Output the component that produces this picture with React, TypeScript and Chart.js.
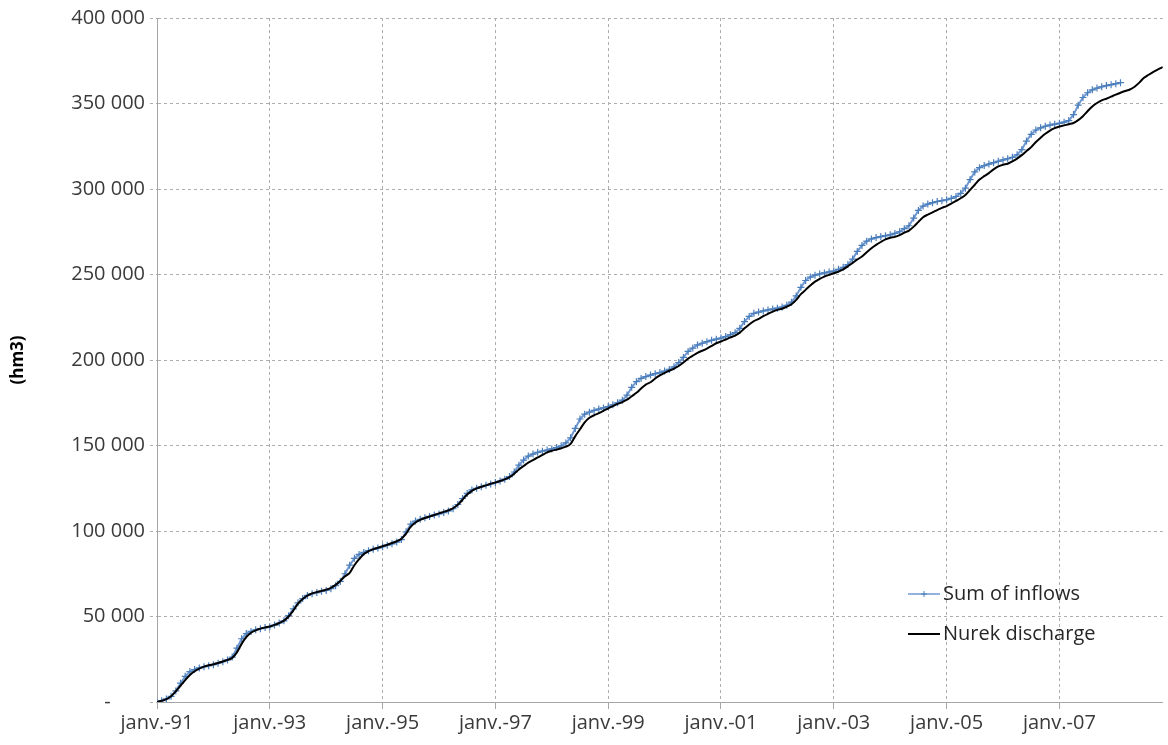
import React, { useEffect, useRef } from 'react';
import { Chart, registerables } from 'chart.js';

Chart.register(...registerables);

// Monthly cumulative volumes (hm3), starting January 1991
const sumOfInflows: number[] = [
  // 1991
  0, 800, 1800, 3300, 6500, 11000, 15000, 17800, 19000, 19900, 20600, 21200,
  // 1992
  21800, 22700, 23600, 24600, 26300, 31500, 37000, 40000, 41300, 42200, 42900, 43500,
  // 1993
  44000, 45000, 46200, 47500, 50500, 54500, 58000, 60500, 62300, 63300, 64000, 64700,
  // 1994
  65200, 66300, 68000, 70500, 75000, 80000, 84000, 86300, 87500, 88500, 89300, 90000,
  // 1995
  90800, 91700, 92500, 93500, 95000, 99500, 104000, 105800, 106800, 107700, 108500, 109300,
  // 1996
  110000, 110800, 111700, 113000, 115500, 119000, 122000, 124000, 125000, 125900, 126700, 127500,
  // 1997
  128300, 129200, 130300, 131800, 134500, 138500, 141500, 143800, 145000, 146000, 146700, 147300,
  // 1998
  148000, 148800, 149800, 151500, 154500, 160000, 165500, 168300, 169500, 170500, 171300, 172000,
  // 1999
  172800, 173800, 175000, 176500, 179500, 184000, 187300, 189200, 190300, 191200, 192000, 192700,
  // 2000
  193500, 194500, 196000, 198500, 201500, 205000, 207000, 208800, 209800, 210700, 211500, 212200,
  // 2001
  212800, 213700, 214800, 216000, 218500, 222500, 225500, 227300, 228000, 228700, 229300, 229800,
  // 2002
  230300, 231000, 232000, 233800, 237500, 242500, 246500, 248500, 249600, 250300, 250900, 251500,
  // 2003
  252000, 253000, 254200, 255800, 259000, 263500, 267000, 269500, 270800, 271600, 272200, 272700,
  // 2004
  273200, 274000, 275000, 276800, 278500, 283000, 287500, 290000, 291200, 292000, 292700, 293200,
  // 2005
  293700, 294500, 295600, 297500, 300500, 305500, 310000, 312500, 313700, 314600, 315400, 316200,
  // 2006
  317000, 317700, 318500, 320000, 323000, 328000, 332000, 334500, 335800, 336700, 337400, 337900,
  // 2007
  338400, 339100, 340000, 343500, 349000, 353500, 356300, 358000, 359000, 359800, 360500, 361000,
  // 2008
  361600, 362200,
];

const nurekDischarge: number[] = [
  // 1991
  0, 700, 1700, 3400, 6200, 9500, 12800, 15800, 18000, 19500, 20700, 21500,
  // 1992
  22100, 22800, 23700, 24600, 25800, 29000, 34000, 38000, 40500, 41900, 42900, 43600,
  // 1993
  44200, 45100, 46200, 47600, 50000, 53500, 57500, 60300, 62200, 63500, 64300, 65000,
  // 1994
  65700, 66800, 68500, 70800, 73500, 75500, 80000, 83500, 86500, 88200, 89300, 90200,
  // 1995
  91100, 92000, 93000, 94000, 95500, 98500, 102500, 105000, 106500, 107600, 108500, 109400,
  // 1996
  110300, 111200, 112100, 113300, 115300, 118300, 121300, 123500, 124900, 125900, 126700, 127600,
  // 1997
  128400, 129200, 130200, 131500, 133500, 136000, 138000, 140000, 141500, 143000, 144500, 146000,
  // 1998
  146900, 147600, 148400, 149300, 151000, 155500, 159500, 163500, 166200, 167700, 168900, 170300,
  // 1999
  171700, 173000, 174300, 175400, 176800, 178800, 180800, 183300, 185600, 187000, 189200, 191000,
  // 2000
  192500, 193700, 195000, 196500, 198500, 200800, 202500, 204200, 205400, 206700, 208200, 209800,
  // 2001
  210800, 212000, 213200, 214300, 216000, 218500, 220800, 222800, 224000, 225600, 227000, 228300,
  // 2002
  229300, 230000, 231200, 232600, 235200, 238500, 241000, 243600, 245800, 247500, 248800, 249800,
  // 2003
  250700, 251700, 253000, 254800, 256800, 258800, 260500, 263000, 265300, 267300, 269000, 270500,
  // 2004
  271500, 272000, 273000, 274500, 275700, 278000, 280800, 283500, 285000, 286300, 287700, 289000,
  // 2005
  290000, 291500, 293000, 294600, 296500, 299500, 302500, 305500, 307500, 309300, 311500, 313200,
  // 2006
  314200, 314800, 316200, 317800, 319800, 322200, 324500, 327500, 330000, 332300, 334200, 335600,
  // 2007
  336500, 337200, 337900, 338600, 340300, 342600, 345500, 348300, 350300, 351800, 352800, 354000,
  // 2008
  355200, 356300, 357300, 358200, 359800, 362200, 365000, 366800, 368500, 370000, 371300,
];

const seriesNames: string[] = ['Sum of inflows', 'Nurek discharge'];
const xTickLabels: string[] = ['janv.-91', 'janv.-93', 'janv.-95', 'janv.-97', 'janv.-99', 'janv.-01', 'janv.-03', 'janv.-05', 'janv.-07'];
const xTickMonths: number[] = [0, 24, 48, 72, 96, 120, 144, 168, 192];
const yTickValues: number[] = [0, 50000, 100000, 150000, 200000, 250000, 300000, 350000, 400000];
const yAxisTitle = '(hm3)';

const FONT = "'Open Sans', sans-serif";
const BLUE_LINE = '#6F98D3';
const BLUE_MARK = '#4A7EBB';
const GRID = '#ADADAD';
const AXIS = '#A6A6A6';
const TEXT = '#3A3A3A';

function fmt(v: number): string {
  if (v === 0) return '-\u2007\u2007\u2007';
  return String(v).replace(/\B(?=(\d{3})+(?!\d))/g, ' ');
}

const legendPlugin = {
  id: 'inlineLegend',
  afterDraw(chart: any) {
    const ctx = chart.ctx;
    const x0 = 908;
    const x1 = 940;
    const rows = [594, 634];
    ctx.save();
    ctx.font = `20px ${FONT}`;
    ctx.textBaseline = 'middle';
    ctx.textAlign = 'left';
    rows.forEach((y, i) => {
      ctx.beginPath();
      ctx.setLineDash([]);
      ctx.lineWidth = i === 0 ? 1.5 : 2;
      ctx.strokeStyle = i === 0 ? BLUE_LINE : '#000000';
      ctx.moveTo(x0, y);
      ctx.lineTo(x1, y);
      ctx.stroke();
      if (i === 0) {
        ctx.beginPath();
        ctx.lineWidth = 1;
        ctx.strokeStyle = BLUE_MARK;
        const cx = (x0 + x1) / 2;
        ctx.moveTo(cx - 3, y);
        ctx.lineTo(cx + 3, y);
        ctx.moveTo(cx, y - 3);
        ctx.lineTo(cx, y + 3);
        ctx.stroke();
      }
      ctx.fillStyle = '#262626';
      ctx.fillText(seriesNames[i], x1 + 3, y);
    });
    ctx.restore();
  },
};

export default function App() {
  const canvasRef = useRef<HTMLCanvasElement | null>(null);

  useEffect(() => {
    document.body.style.margin = '0';
    const canvas = canvasRef.current;
    if (!canvas) return;
    const chart = new Chart(canvas, {
      type: 'line',
      data: {
        datasets: [
          {
            label: seriesNames[0],
            data: sumOfInflows.map((v, i) => ({ x: i, y: v })),
            borderColor: BLUE_LINE,
            borderWidth: 2,
            pointStyle: 'cross',
            pointRadius: 3.5,
            pointBorderWidth: 1.2,
            pointBorderColor: BLUE_MARK,
            pointBackgroundColor: BLUE_MARK,
            tension: 0,
            order: 1,
          },
          {
            label: seriesNames[1],
            data: nurekDischarge.map((v, i) => ({ x: i, y: v })),
            borderColor: '#000000',
            borderWidth: 2,
            pointRadius: 0,
            cubicInterpolationMode: 'monotone',
            order: 0,
          },
        ],
      },
      options: {
        animation: false,
        responsive: false,
        maintainAspectRatio: false,
        layout: { padding: { top: 18, right: 0, left: 0, bottom: 0 } },
        plugins: {
          legend: { display: false },
          tooltip: { enabled: false },
        },
        scales: {
          x: {
            type: 'linear',
            min: 0,
            max: nurekDischarge.length - 1,
            afterBuildTicks: (scale: any) => {
              scale.ticks = xTickMonths.map((v) => ({ value: v }));
            },
            afterFit: (scale: any) => {
              scale.height = 43;
            },
            ticks: {
              autoSkip: false,
              maxRotation: 0,
              padding: 2,
              color: TEXT,
              font: { family: FONT, size: 20 },
              callback: (v: any) => {
                const idx = xTickMonths.indexOf(Number(v));
                return idx >= 0 ? xTickLabels[idx] : '';
              },
            },
            grid: { color: GRID, lineWidth: 1, tickLength: 7, tickColor: AXIS },
            border: { display: true, color: AXIS, width: 1, dash: [3, 3] },
          },
          y: {
            type: 'linear',
            min: 0,
            max: 400000,
            afterBuildTicks: (scale: any) => {
              scale.ticks = yTickValues.map((v) => ({ value: v }));
            },
            afterFit: (scale: any) => {
              scale.width = 157;
            },
            ticks: {
              padding: 5,
              color: TEXT,
              font: { family: FONT, size: 20 },
              callback: (v: any) => fmt(Number(v)),
            },
            grid: { color: GRID, lineWidth: 1, tickLength: 7, tickColor: GRID, tickBorderDash: [3, 3] },
            border: { display: true, color: AXIS, width: 1, dash: [3, 3] },
            title: {
              display: true,
              text: yAxisTitle,
              color: '#000000',
              font: { family: FONT, size: 17, weight: 'bold' },
              padding: { top: 8, bottom: 0 },
            },
          },
        },
      },
      plugins: [legendPlugin],
    } as any);
    return () => chart.destroy();
  }, []);

  return (
    <div style={{ width: 1168, height: 745 }}>
      <canvas ref={canvasRef} width={1168} height={745} />
    </div>
  );
}
